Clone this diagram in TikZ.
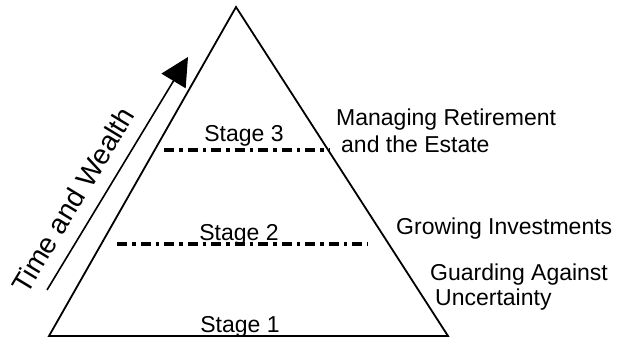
\documentclass[tikz,border=0pt]{standalone}
\usepackage{fontspec}
\setmainfont{Liberation Sans}
\usetikzlibrary{arrows.meta}
\begin{document}
\begin{tikzpicture}[x=1pt,y=1pt,
  lbl/.style={inner sep=0pt,font=\fontsize{23}{27}\selectfont},
  divline/.style={line width=3.2pt,dash pattern=on 10pt off 5pt on 3.5pt off 5pt},
  edge/.style={line width=1.8pt,line join=miter}]
\useasboundingbox (0,0) rectangle (620,340);
\coordinate (apex) at (236,333);
\coordinate (bl) at (49,4);
\coordinate (br) at (448,4);
\draw[edge] (bl) -- (apex) -- (br) -- cycle;
% stage dividers
\coordinate (s3a) at (164,190);
\coordinate (s3b) at (330,190);
\coordinate (s2a) at (117,96);
\coordinate (s2b) at (368,96);
\draw[divline] (s3a) -- (s3b);
\draw[divline] (s2a) -- (s2b);
% arrow
\coordinate (arS) at (47,50);
\coordinate (arE) at (188,283);
\draw[line width=1.6pt,-{Triangle[length=28pt,width=28pt]}] (arS) -- (arE);
\node[inner sep=0pt,rotate=58.8,font=\fontsize{28}{30}\selectfont] (tw) at (73,140) {Time and Wealth};
% stage labels
\node[lbl,anchor=base] (st3) at (244,198) {Stage 3};
\node[lbl,anchor=base] (st2) at (239,100) {Stage 2};
\node[lbl,anchor=base] (st1) at (240,8) {Stage 1};
% right labels
\node[lbl,anchor=base west] (m1) at (336,214) {Managing Retirement};
\node[lbl,anchor=base west] (m2) at (341,187) {and the Estate};
\node[lbl,anchor=base west] (g1) at (396,106) {Growing Investments};
\node[lbl,anchor=base west] (u1) at (430,60) {Guarding Against};
\node[lbl,anchor=base west] (u2) at (435,35) {Uncertainty};
\end{tikzpicture}
\end{document}
